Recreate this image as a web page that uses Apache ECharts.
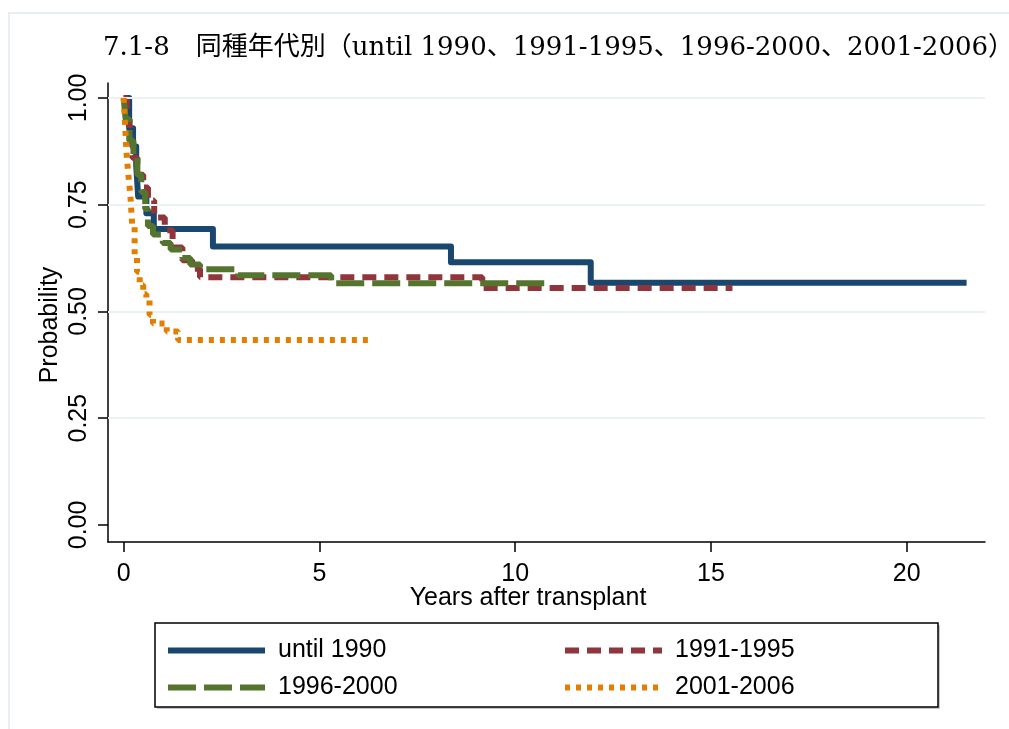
<!DOCTYPE html>
<html>
<head>
<meta charset="utf-8">
<script src="https://cdn.jsdelivr.net/npm/echarts@6/dist/echarts.min.js"></script>
<style>
html,body{margin:0;padding:0;background:#fff;}
#chart{width:1009px;height:729px;}
</style>
</head>
<body>
<div id="chart"></div>
<script>
// ---- data ----
const titleText = '7.1-8\u3000同種年代別（until 1990、1991-1995、1996-2000、2001-2006）';
const seriesNames = ['until 1990', '1991-1995', '1996-2000', '2001-2006'];
const xTicks = [0, 5, 10, 15, 20];
const yTicks = [0, 0.25, 0.5, 0.75, 1];
const yGridLines = [0.25, 0.5, 0.75, 1];

const t1990 = [0, 0.14, 0.24, 0.32, 0.37, 0.58, 0.77, 2.28, 8.36, 11.93, 21.53];
const s1990 = [1.0, 0.929, 0.886, 0.843, 0.769, 0.730, 0.693, 0.652, 0.615, 0.567, 0.567];

const t1995 = [0, 0.08, 0.15, 0.22, 0.35, 0.5, 0.62, 0.78, 1.05, 1.25, 1.5, 1.75, 1.95, 9.16, 15.55];
const s1995 = [1.0, 0.95, 0.90, 0.86, 0.82, 0.79, 0.76, 0.72, 0.69, 0.65, 0.62, 0.60, 0.58, 0.555, 0.555];

const t2000 = [0, 0.05, 0.15, 0.25, 0.35, 0.45, 0.55, 0.62, 0.75, 1.0, 1.2, 1.5, 1.7, 1.95, 2.92, 5.3, 10.87];
const s2000 = [1.0, 0.95, 0.90, 0.86, 0.82, 0.78, 0.74, 0.70, 0.68, 0.66, 0.645, 0.625, 0.61, 0.599, 0.585, 0.566, 0.566];

const t2006 = [0, 0.03, 0.07, 0.12, 0.17, 0.22, 0.28, 0.34, 0.41, 0.5, 0.58, 0.66, 0.75, 1.1, 1.39, 6.38];
const s2006 = [1.0, 0.95, 0.874, 0.82, 0.773, 0.70, 0.632, 0.593, 0.562, 0.54, 0.531, 0.492, 0.472, 0.453, 0.433, 0.433];

// ---- chart ----
const colors = ['#1a476f', '#90353b', '#55752f', '#e37e00'];
const font = "'Liberation Sans', Arial, Helvetica, sans-serif";
const fs = 25;
function pairs(t, s) { return t.map((v, i) => [v, s[i]]); }

const chart = echarts.init(document.getElementById('chart'), null, {renderer: 'canvas'});

const lineStyles = [
  {color: colors[0], width: 6, type: 'solid', cap: 'butt', join: 'round'},
  {color: colors[1], width: 6, type: [14, 8], cap: 'butt'},
  {color: colors[2], width: 6, type: [28, 8], cap: 'butt'},
  {color: colors[3], width: 6, type: [5, 6], cap: 'butt'}
];
const datas = [pairs(t1990, s1990), pairs(t1995, s1995), pairs(t2000, s2000), pairs(t2006, s2006)];

const series = [{
  type: 'line', name: '_grid', data: [], z: 0, silent: true,
  markLine: {
    silent: true, symbol: 'none', label: {show: false},
    lineStyle: {color: '#eaf2f3', width: 2, type: 'solid'},
    data: yGridLines.map(v => ({yAxis: v}))
  }
}];
seriesNames.forEach((n, i) => {
  series.push({
    type: 'line', name: n, data: datas[i], step: 'end',
    symbol: 'none', showSymbol: false, z: 2 + i,
    lineStyle: lineStyles[i], itemStyle: {color: colors[i]},
    animation: false
  });
});

const legendCommon = {
  orient: 'vertical', padding: 0, itemWidth: 97, itemHeight: 24, itemGap: 12,
  itemStyle: {opacity: 0, borderWidth: 0},
  lineStyle: {width: 6},
  textStyle: {fontFamily: font, fontSize: fs, color: '#000', lineHeight: 24, padding: [0, 0, 0, 8]},
  selectedMode: false
};

chart.setOption({
  animation: false,
  backgroundColor: '#fff',
  textStyle: {fontFamily: font},
  grid: {left: 108, right: 24, top: 83, bottom: 187, containLabel: false},
  title: {
    text: titleText, left: 103, top: 35, padding: 0,
    textStyle: {fontFamily: "'DejaVu Serif', 'Noto Sans CJK JP', serif", fontSize: 26, fontWeight: 'normal', color: '#000'}
  },
  legend: [
    Object.assign({}, legendCommon, {left: 165, top: 638, data: [seriesNames[0], seriesNames[2]]}),
    Object.assign({}, legendCommon, {left: 562, top: 638, data: [seriesNames[1], seriesNames[3]]})
  ],
  xAxis: {
    type: 'value', min: -0.4, max: 22,
    axisLine: {show: true, onZero: false, lineStyle: {color: '#000', width: 1.5}},
    axisTick: {show: true, length: 10, customValues: xTicks, lineStyle: {color: '#000', width: 1.5}},
    axisLabel: {customValues: xTicks, fontFamily: font, fontSize: fs, color: '#000', margin: 20},
    splitLine: {show: false}
  },
  yAxis: {
    type: 'value', min: -0.04, max: 1.035,
    axisLine: {show: true, onZero: false, lineStyle: {color: '#000', width: 1.5}},
    axisTick: {show: true, length: 10, customValues: yTicks, lineStyle: {color: '#000', width: 1.5}},
    axisLabel: {customValues: yTicks, rotate: 90, fontFamily: font, fontSize: fs, color: '#000', margin: 16,
      formatter: v => v.toFixed(2)},
    splitLine: {show: false}
  },
  graphic: [
    {type: 'rect', silent: true, z: -10, shape: {x: 9, y: 13, width: 1100, height: 800},
     style: {fill: 'none', stroke: '#e8eef1', lineWidth: 2}},
    {type: 'rect', silent: true, z: -1, shape: {x: 157, y: 625, width: 783, height: 84},
     style: {fill: '#c8c8c8', stroke: null}},
    {type: 'rect', silent: true, z: -1, shape: {x: 155, y: 623, width: 783, height: 84},
     style: {fill: '#fff', stroke: '#000', lineWidth: 1.5}},
    {type: 'text', silent: true, x: 50, y: 325, rotation: Math.PI / 2,
     style: {text: 'Probability', fontFamily: font, fontSize: fs, fill: '#000', align: 'center', verticalAlign: 'middle'}},
    {type: 'text', silent: true, x: 528, y: 598,
     style: {text: 'Years after transplant', fontFamily: font, fontSize: fs, fill: '#000', align: 'center', verticalAlign: 'middle'}}
  ],
  series: series
});
</script>
</body>
</html>
